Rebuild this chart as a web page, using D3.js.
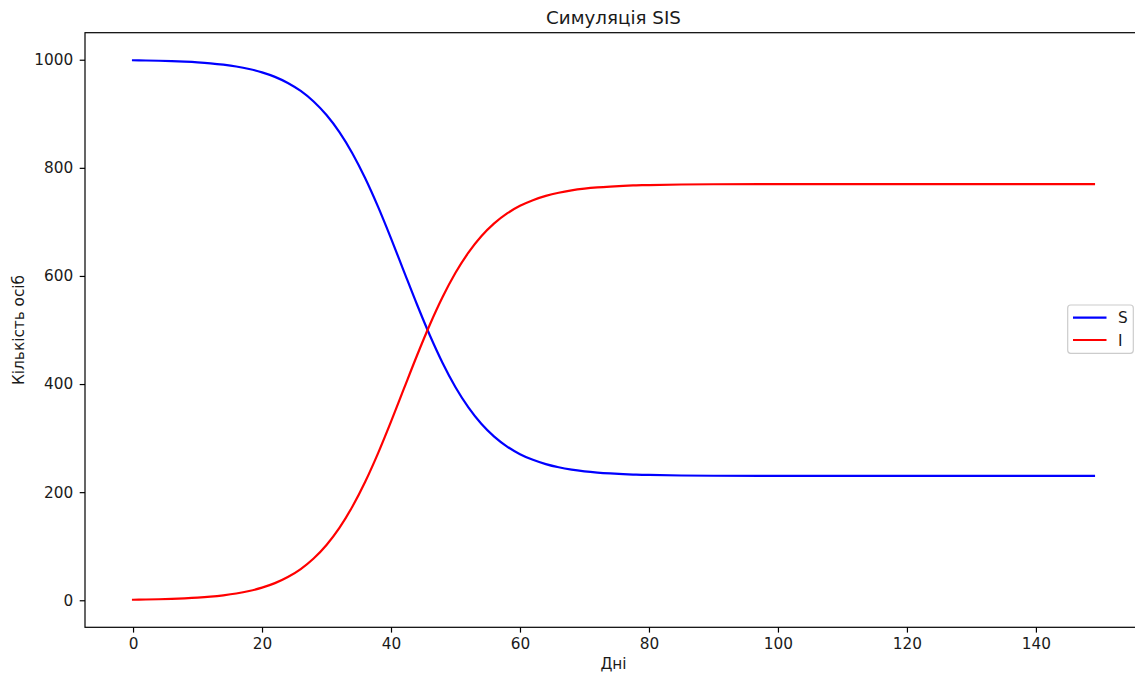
<!DOCTYPE html>
<html>
<head>
<meta charset="utf-8">
<script src="https://cdn.jsdelivr.net/npm/d3@7"></script>
<style>
  html, body { margin: 0; padding: 0; background: #ffffff; }
  svg { display: block; font-family: "DejaVu Sans", sans-serif; }
</style>
</head>
<body>
<svg id="chart" width="1135" height="673"></svg>
<script>
// SIS model run: days and the two compartments
const days = [0, 2, 4, 6, 8, 10, 12, 14, 16, 18, 20, 22, 24, 26, 28, 30, 32, 34, 36, 38,
  40, 42, 44, 46, 48, 50, 52, 54, 56, 58, 60, 62, 64, 66, 68, 70, 72, 74, 76, 78,
  80, 85, 90, 100, 110, 120, 130, 140, 149];
const infected = [1.0, 1.4, 1.9, 2.6, 3.6, 4.9, 6.7, 9.2, 12.5, 17.1, 23.4, 31.7, 43.0, 57.8, 77.3,
  102.4, 134.0, 173.0, 219.3, 272.3, 330.5, 391.4, 451.9, 509.2, 560.9, 605.8, 643.1, 673.4,
  697.2, 715.6, 729.7, 740.2, 748.1, 754.0, 758.3, 761.4, 763.7, 765.4, 766.7, 767.6,
  768.2, 769.2, 769.6, 769.9, 770.0, 770.0, 770.0, 770.0, 770.0];
const susceptible = [999.0, 998.6, 998.1, 997.4, 996.4, 995.1, 993.3, 990.8, 987.5, 982.9, 976.6,
  968.3, 957.0, 942.2, 922.7, 897.6, 866.0, 827.0, 780.7, 727.7, 669.5, 608.6, 548.1, 490.8,
  439.1, 394.2, 356.9, 326.6, 302.8, 284.4, 270.3, 259.8, 251.9, 246.0, 241.7, 238.6, 236.3,
  234.6, 233.3, 232.4, 231.8, 230.8, 230.4, 230.1, 230.0, 230.0, 230.0, 230.0, 230.0];
const xTicks = [0, 20, 40, 60, 80, 100, 120, 140];
const yTicks = [0, 200, 400, 600, 800, 1000];
const seriesNames = ["S", "I"];
const seriesColors = ["#0000ff", "#ff0000"];

const svg = d3.select("#chart");
const plotLeft = 85, plotRight = 1142, plotTop = 32.7, plotBottom = 627.3;
const fontSize = 15.3;

const x = d3.scaleLinear().domain([-7.45, 156.45]).range([plotLeft, plotRight]);
const y = d3.scaleLinear().domain([-50, 1050]).range([plotBottom, plotTop]);

// plot lines
const plot = svg.append("g");
const line = d3.line().x((d, i) => x(days[i])).y(d => y(d)).curve(d3.curveMonotoneX);
[susceptible, infected].forEach((vals, k) => {
  plot.append("path")
    .attr("d", line(vals))
    .attr("fill", "none")
    .attr("stroke", seriesColors[k])
    .attr("stroke-width", 2.2)
    .attr("stroke-linecap", "square");
});

// axes frame
svg.append("rect")
  .attr("x", plotLeft).attr("y", plotTop)
  .attr("width", plotRight - plotLeft).attr("height", plotBottom - plotTop)
  .attr("fill", "none").attr("stroke", "#000").attr("stroke-width", 1.2);

const xAxis = d3.axisBottom(x).tickValues(xTicks).tickFormat(d3.format("d"))
  .tickSize(5.3).tickPadding(5.3);
const gx = svg.append("g").attr("transform", `translate(0,${plotBottom})`).call(xAxis);
const yAxis = d3.axisLeft(y).tickValues(yTicks).tickFormat(d3.format("d"))
  .tickSize(5.3).tickPadding(6.5);
const gy = svg.append("g").attr("transform", `translate(${plotLeft},0)`).call(yAxis);
[gx, gy].forEach(g => {
  g.select(".domain").remove();
  g.selectAll(".tick line").attr("stroke", "#000").attr("stroke-width", 1.2);
  g.selectAll(".tick text").attr("fill", "#1a1a1a")
    .style("font-family", "DejaVu Sans").style("font-size", fontSize + "px");
});

// titles
svg.append("text").attr("x", (plotLeft + plotRight) / 2).attr("y", 24)
  .attr("text-anchor", "middle").style("font-size", "18.3px").attr("fill", "#1a1a1a")
  .text("Симуляція SIS");
svg.append("text").attr("x", (plotLeft + plotRight) / 2).attr("y", 669)
  .attr("text-anchor", "middle").style("font-size", fontSize + "px").attr("fill", "#1a1a1a")
  .text("Дні");
svg.append("text").attr("transform", `translate(23.5,${(plotTop + plotBottom) / 2}) rotate(-90)`)
  .attr("text-anchor", "middle").style("font-size", fontSize + "px").attr("fill", "#1a1a1a")
  .text("Кількість осіб");

// legend
const lg = svg.append("g");
lg.append("rect").attr("x", 1067.7).attr("y", 305).attr("width", 65.6).attr("height", 48.3)
  .attr("rx", 3).attr("fill", "#fff").attr("fill-opacity", 0.8)
  .attr("stroke", "#cccccc").attr("stroke-width", 1.2);
seriesNames.forEach((name, k) => {
  const ly = 317.7 + k * 22.3;
  lg.append("line").attr("x1", 1073).attr("x2", 1106.5).attr("y1", ly).attr("y2", ly)
    .attr("stroke", seriesColors[k]).attr("stroke-width", 2.2);
  lg.append("text").attr("x", 1118).attr("y", ly + 5.5).style("font-size", fontSize + "px")
    .attr("fill", "#1a1a1a").text(name);
});
</script>
</body>
</html>
